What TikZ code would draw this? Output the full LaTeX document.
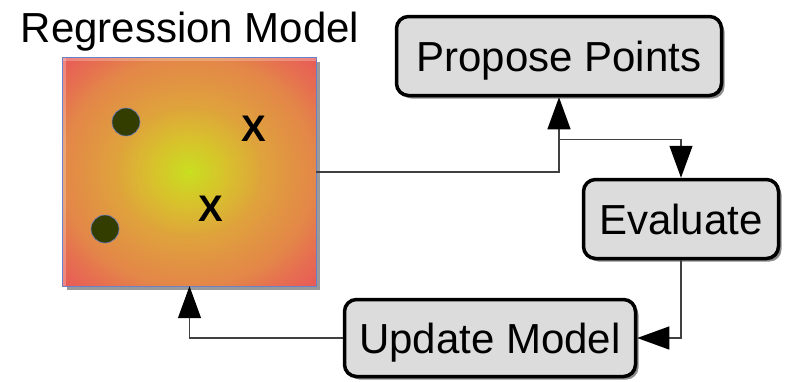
\documentclass[tikz,border=0pt]{standalone}
\usepackage{fontspec}
\setmainfont{Liberation Sans}
\usetikzlibrary{arrows.meta,shadows,calc}

% colour stops of the warm glow on the model surface, outermost first
\definecolor{glowA}{HTML}{C8E020}
\definecolor{glowB}{HTML}{D8C22C}
\definecolor{glowC}{HTML}{DFA23C}
\definecolor{glowD}{HTML}{E38848}
\definecolor{glowE}{HTML}{E67050}
\definecolor{glowF}{HTML}{E85858}

\definecolor{boxfill}{HTML}{DCDCDC}
\definecolor{dotfill}{HTML}{333D00}
\definecolor{edgeblue}{HTML}{6A80C8}

\tikzset{
  stepbox/.style={draw=black, line width=3.5pt, rounded corners=12pt,
    fill=boxfill, inner sep=0pt, text height=31pt, text depth=0pt,
    font=\fontsize{42}{50}\selectfont,
    drop shadow={shadow xshift=3pt, shadow yshift=-3pt, fill=black!45, opacity=1}},
  flow/.style={draw=black!75, line width=1.2pt,
    -{Triangle[length=32pt,width=23pt,fill=black,color=black]}},
  sample/.style={circle, fill=dotfill, draw=edgeblue, line width=0.6pt,
    minimum size=28pt, inner sep=0pt},
  cand/.style={inner sep=0pt, font=\fontsize{37}{42}\selectfont\bfseries},
}

\begin{document}
\begin{tikzpicture}[x=1pt,y=-1pt]
\useasboundingbox (0,0) rectangle (785,381);

% regression model surface: shadow, glow, border
\fill[black!40] (67,62) rectangle (320,290);
\node[minimum width=253pt, minimum height=228pt, inner sep=0pt] (model) at (189.5,172) {};
\begin{scope}
  \clip (model.south west) rectangle (model.north east);
  \foreach \ca/\cb/\ra/\rb in {glowF/glowE/1.45/1.2, glowE/glowD/1.2/1.0,
      glowD/glowC/1.0/0.6, glowC/glowB/0.6/0.3, glowB/glowA/0.3/0.0}{
    \foreach \k in {0,...,11}{
      \pgfmathsetmacro\rr{\ra-(\ra-\rb)*\k/12}
      \pgfmathtruncatemacro\pp{100*\k/12}
      \pgfmathsetmacro\rx{126.5*\rr}
      \pgfmathsetmacro\ry{114*\rr}
      \fill[\cb!\pp!\ca] (model.center) ellipse [x radius=\rx pt, y radius=\ry pt];
    }
  }
  \fill[glowA] (model.center) ellipse [x radius=3pt, y radius=2.7pt];
  % pale rim along the upper and left sides
  \fill[white, opacity=0.25] (model.north west) rectangle ++(3,228);
  \fill[white, opacity=0.25] (model.north west) rectangle ++(253,3);
\end{scope}
\draw[edgeblue, line width=0.8pt] (model.south west) rectangle (model.north east);
\node[anchor=base, font=\fontsize{42}{50}\selectfont] (title) at (190,42) {Regression Model};

% observed samples and proposed candidates
\node[sample] (s1) at (126,122) {};
\node[sample] (s2) at (105,229) {};
\node[cand] (c1) at (254,129) {X};
\node[cand] (c2) at (211,209) {X};

% loop steps
\node[stepbox, minimum width=325pt, minimum height=79pt] (propose) at (559,56) {Propose Points};
\node[stepbox, minimum width=195pt, minimum height=79pt] (evaluate) at (681,219) {Evaluate};
\node[stepbox, minimum width=291pt, minimum height=77pt] (update) at (490,338) {Update Model};

% connectors
\coordinate (split) at ($(propose.south)+(0,42)$);
\draw[flow] (model.east) -| (propose.south);
\draw[flow] (split) -| (evaluate.north);
\draw[flow] (evaluate.south) |- (update.east);
\draw[flow] (update.west) -| (model.south);
\end{tikzpicture}
\end{document}
